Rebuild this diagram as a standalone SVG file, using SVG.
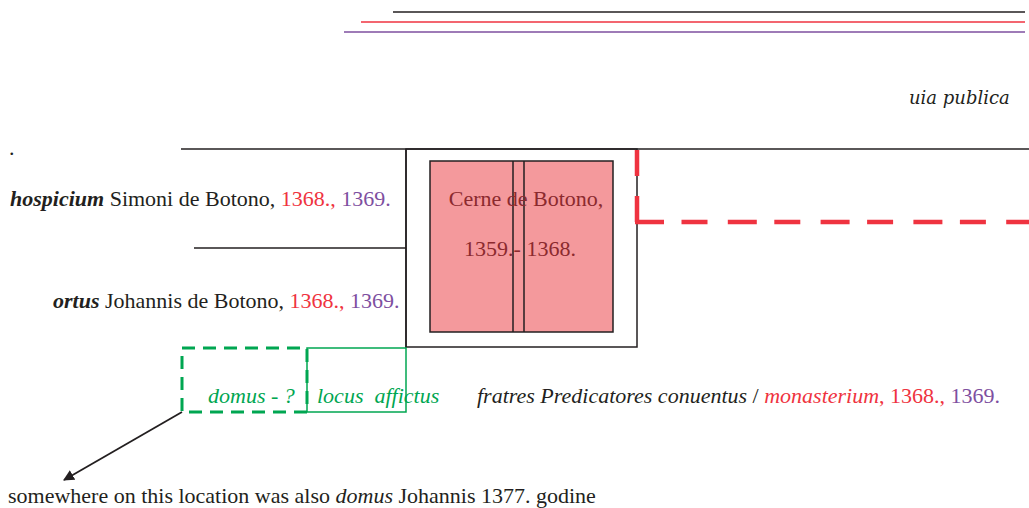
<svg xmlns="http://www.w3.org/2000/svg" width="1029" height="508" viewBox="0 0 1029 508">
<style>
text{font-family:"Liberation Serif","Times New Roman",serif;font-size:22px;fill:#231f20}
.it{font-style:italic}
.bi{font-style:italic;font-weight:bold}
.r{fill:#ef3340}
.p{fill:#7e4f9f}
.g{fill:#00a651}
.ln{stroke:#231f20;stroke-width:1.5;fill:none}
.rd{stroke:#ef3340;stroke-width:4.5;fill:none}
</style>
<defs>
<marker id="ah" viewBox="0 0 10 10" refX="9" refY="5" markerWidth="11" markerHeight="11" markerUnits="userSpaceOnUse" orient="auto">
<path d="M0,0 L10,5 L0,10 z" fill="#231f20"/>
</marker>
</defs>
<g id="top-lines">
<line x1="393" y1="12" x2="1025" y2="12" stroke="#231f20" stroke-width="1.5"/>
<line x1="361" y1="22" x2="1025" y2="22" stroke="#ef3340" stroke-width="1.5"/>
<line x1="344" y1="32" x2="1025" y2="32" stroke="#7e4f9f" stroke-width="1.5"/>
</g>
<g id="streets">
<line class="ln" x1="181" y1="149" x2="1029" y2="149"/>
<line class="ln" x1="194" y1="248" x2="406" y2="248"/>
<line class="ln" x1="406" y1="149" x2="406" y2="348"/>
</g>
<g id="monastery">
<rect class="ln" x="406" y="149" width="231" height="198"/>
</g>
<g id="cerne">
<rect x="430" y="161" width="183" height="171" fill="#f4999c" stroke="#231f20" stroke-width="1.5"/>
<line class="ln" x1="513" y1="161" x2="513" y2="332"/>
<line class="ln" x1="524" y1="161" x2="524" y2="332"/>
<text x="526" y="206" text-anchor="middle" style="fill:#8b2a2e">Cerne de Botono,</text>
<text x="520" y="256" text-anchor="middle" style="fill:#8b2a2e">1359.- 1368.</text>
</g>
<g id="red-boundary">
<line class="rd" x1="637" y1="150" x2="637" y2="224" stroke-dasharray="26,20"/>
<line class="rd" x1="635" y1="222" x2="1029" y2="222" stroke-dasharray="29,17.5,26,20.3"/>
</g>
<g id="domus">
<rect x="182" y="348" width="125" height="64" fill="none" stroke="#00a651" stroke-width="3" stroke-dasharray="13,8"/>
<text class="it g" x="208" y="403">domus - ?</text>
</g>
<g id="locus">
<rect x="307" y="348" width="99" height="64" fill="none" stroke="#00a651" stroke-width="1.5"/>
<text class="it g" x="317" y="403" style="white-space:pre">locus  affictus</text>
</g>
<g id="labels">
<text class="it" x="909" y="104" style="font-family:'DejaVu Serif','Liberation Serif',serif;font-size:18px">uia publica</text>
<text x="9" y="155">.</text>
<text x="10" y="206"><tspan class="bi">hospicium</tspan> Simoni de Botono, <tspan class="r">1368.,</tspan><tspan class="p"> 1369.</tspan></text>
<text x="53" y="308"><tspan class="bi">ortus</tspan> Johannis de Botono, <tspan class="r">1368.,</tspan><tspan class="p"> 1369.</tspan></text>
<text x="477" y="403"><tspan class="it">fratres Predicatores conuentus</tspan> / <tspan class="it r">monasterium</tspan><tspan class="r">, 1368., </tspan><tspan class="p">1369.</tspan></text>
<text x="8" y="503">somewhere on this location was also <tspan class="it">domus</tspan> Johannis 1377. godine</text>
</g>
<g id="connectors">
<line x1="182" y1="412" x2="64" y2="480" stroke="#231f20" stroke-width="1.8" marker-end="url(#ah)"/>
</g>
</svg>
